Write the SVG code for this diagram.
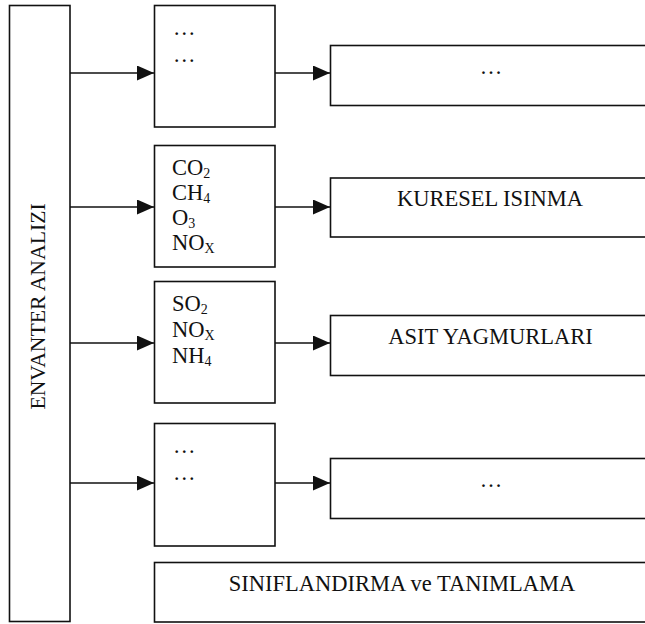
<svg xmlns="http://www.w3.org/2000/svg" width="645" height="624" viewBox="0 0 645 624">
<style>
  .box { fill: #fff; stroke: #111; stroke-width: 1.6; }
  .ln { stroke: #111; stroke-width: 1.6; fill: none; }
  .t { font-family: "Liberation Serif", "Times New Roman", serif; font-size: 22.5px; fill: #111; }
  .v { font-size: 21.7px; }
  .c { text-anchor: middle; }
  .s { font-size: 14px; }
</style>
<defs>
  <marker id="arr" viewBox="0 0 17 15" refX="17" refY="7.5" markerWidth="17" markerHeight="15" markerUnits="userSpaceOnUse" orient="auto">
    <path d="M0,0 L17,7.5 L0,15 Z" fill="#111"/>
  </marker>
</defs>
<rect width="645" height="624" fill="#fff"/>

<g id="connectors">
  <line class="ln" x1="70" y1="73" x2="154" y2="73" marker-end="url(#arr)"/>
  <line class="ln" x1="275" y1="73" x2="330" y2="73" marker-end="url(#arr)"/>
  <line class="ln" x1="70" y1="207" x2="154" y2="207" marker-end="url(#arr)"/>
  <line class="ln" x1="275" y1="207" x2="330" y2="207" marker-end="url(#arr)"/>
  <line class="ln" x1="70" y1="343" x2="154" y2="343" marker-end="url(#arr)"/>
  <line class="ln" x1="275" y1="343" x2="330" y2="343" marker-end="url(#arr)"/>
  <line class="ln" x1="70" y1="483" x2="154" y2="483" marker-end="url(#arr)"/>
  <line class="ln" x1="275" y1="483" x2="330" y2="483" marker-end="url(#arr)"/>
</g>

<g id="envanter">
  <rect class="box" x="9.5" y="5.5" width="60.5" height="616"/>
  <text class="t v c" transform="translate(45,306.5) rotate(-90)">ENVANTER ANALIZI</text>
</g>

<g id="mid1">
  <rect class="box" x="154.5" y="5.5" width="120.5" height="121.5"/>
  <text class="t" x="173" y="34.5">…</text>
  <text class="t" x="173" y="62">…</text>
</g>
<g id="mid2">
  <rect class="box" x="154.5" y="145.5" width="120.5" height="121.5"/>
  <text class="t" x="172" y="175">CO<tspan class="s" dy="3">2</tspan></text>
  <text class="t" x="172" y="200">CH<tspan class="s" dy="3">4</tspan></text>
  <text class="t" x="172" y="225">O<tspan class="s" dy="3">3</tspan></text>
  <text class="t" x="172" y="250">NO<tspan class="s" dy="3">X</tspan></text>
</g>
<g id="mid3">
  <rect class="box" x="154.5" y="281.5" width="120.5" height="121.5"/>
  <text class="t" x="172" y="311">SO<tspan class="s" dy="3">2</tspan></text>
  <text class="t" x="172" y="337">NO<tspan class="s" dy="3">X</tspan></text>
  <text class="t" x="172" y="363">NH<tspan class="s" dy="3">4</tspan></text>
</g>
<g id="mid4">
  <rect class="box" x="154.5" y="423.5" width="120.5" height="122.5"/>
  <text class="t" x="173" y="452.5">…</text>
  <text class="t" x="173" y="480">…</text>
</g>

<g id="right1">
  <rect class="box" x="330.5" y="45.5" width="330" height="60"/>
  <text class="t c" x="491" y="73.5">…</text>
</g>
<g id="right2">
  <rect class="box" x="330.5" y="178" width="330" height="59"/>
  <text class="t c" x="490" y="206">KURESEL ISINMA</text>
</g>
<g id="right3">
  <rect class="box" x="330.5" y="315.5" width="330" height="60"/>
  <text class="t c" x="490.5" y="344">ASIT YAGMURLARI</text>
</g>
<g id="right4">
  <rect class="box" x="330.5" y="458.5" width="330" height="60"/>
  <text class="t c" x="491" y="486.5">…</text>
</g>

<g id="siniflandirma">
  <rect class="box" x="154.5" y="562.5" width="506" height="59.5"/>
  <text class="t c" x="402" y="591">SINIFLANDIRMA ve TANIMLAMA</text>
</g>
</svg>
